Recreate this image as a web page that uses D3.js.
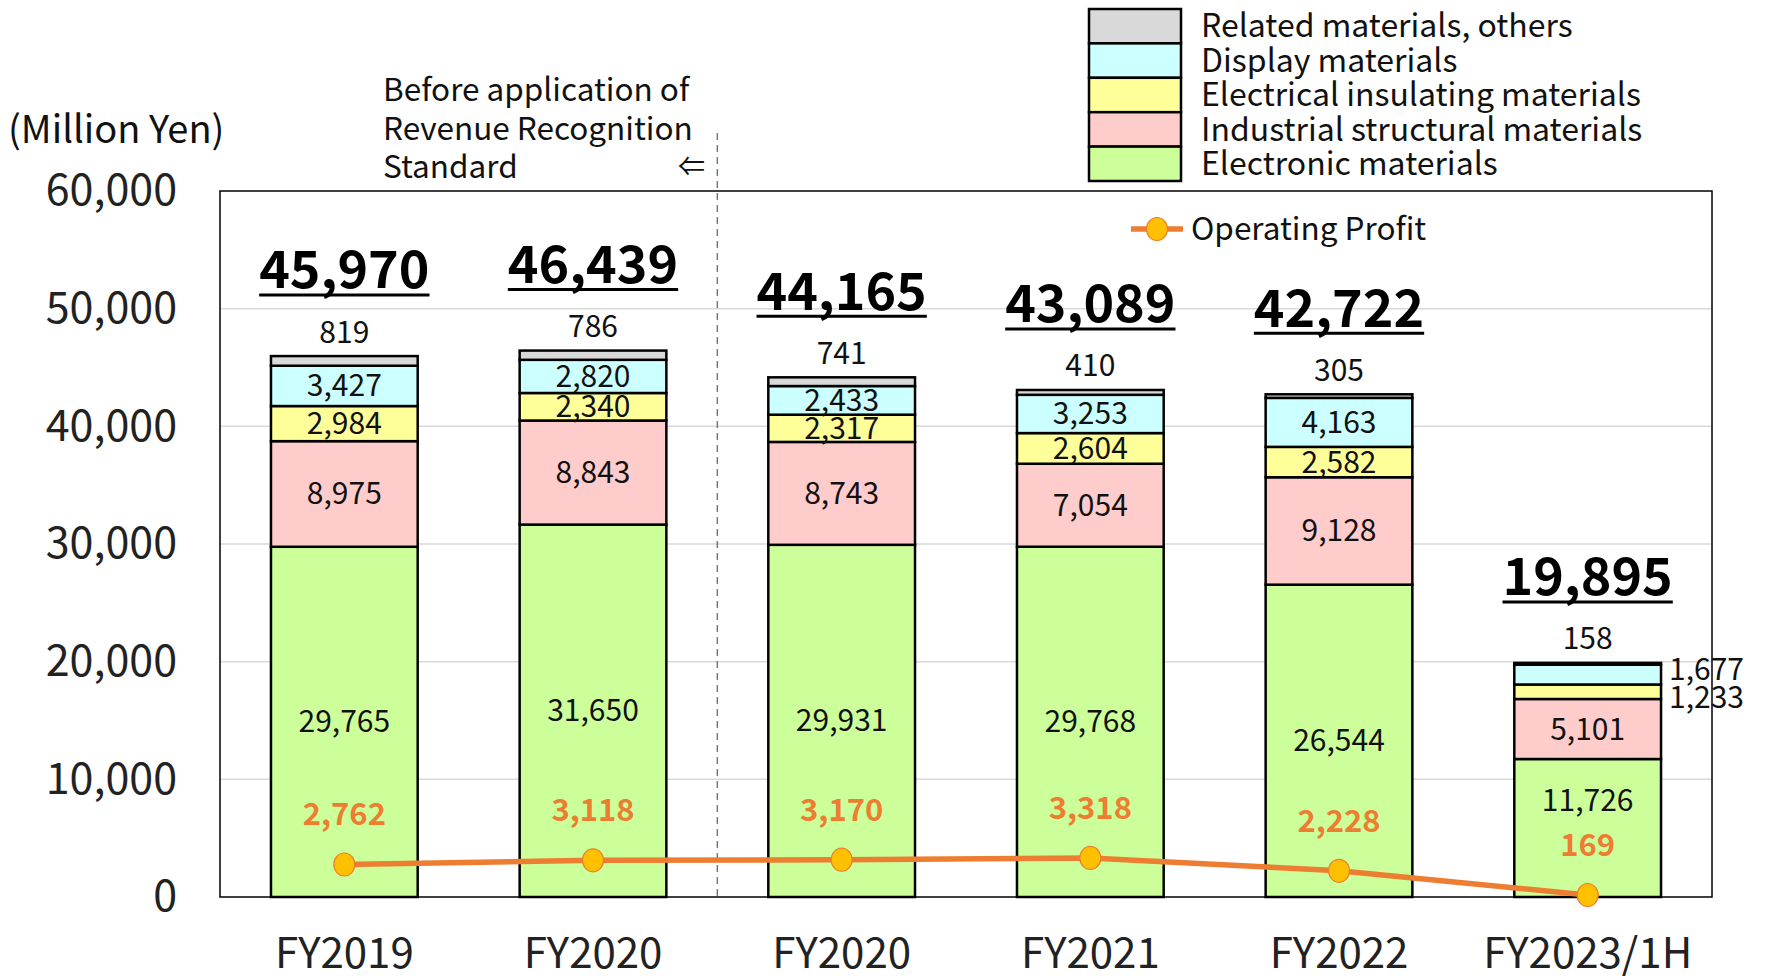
<!DOCTYPE html>
<html>
<head>
<meta charset="utf-8">
<script src="https://cdn.jsdelivr.net/npm/d3@7/dist/d3.min.js"></script>
<style>
  body { margin: 0; background: #fff; }
  svg text { font-family: "Noto Sans CJK JP", "Noto Sans", sans-serif; }
</style>
</head>
<body>
<div id="chart"></div>
<script>
// ── Data ──────────────────────────────────────────────────────────────
const categories = ["FY2019", "FY2020", "FY2020", "FY2021", "FY2022", "FY2023/1H"];
const seriesNames = [
    "Electronic materials",
    "Industrial structural materials",
    "Electrical insulating materials",
    "Display materials",
    "Related materials, others"
];
const electronic = [29765, 31650, 29931, 29768, 26544, 11726];
const industrial = [8975, 8843, 8743, 7054, 9128, 5101];
const electrical = [2984, 2340, 2317, 2604, 2582, 1233];
const display    = [3427, 2820, 2433, 3253, 4163, 1677];
const related    = [819, 786, 741, 410, 305, 158];
const totals     = [45970, 46439, 44165, 43089, 42722, 19895];
const operatingProfit = [2762, 3118, 3170, 3318, 2228, 169];
const yTicks = [0, 10000, 20000, 30000, 40000, 50000, 60000];
const seriesColors = ["#CCFF99", "#FFCCCC", "#FFFF99", "#CCFFFF", "#D9D9D9"];

const width = 1767, height = 980;
const plot = { left: 220, right: 1712, top: 191, bottom: 897 };
const fmt = d3.format(",");

const svg = d3.select("#chart").append("svg")
    .attr("width", width)
    .attr("height", height);

const x = d3.scaleBand()
    .domain(d3.range(categories.length))
    .range([plot.left, plot.right])
    .paddingInner(0.41)
    .paddingOuter(0.205);

const y = d3.scaleLinear()
    .domain([0, 60000])
    .range([plot.bottom, plot.top]);

// ── Gridlines & frame ────────────────────────────────────────────────
svg.append("g")
    .selectAll("line")
    .data(yTicks.filter(t => t > 0 && t < 60000))
    .join("line")
    .attr("x1", plot.left).attr("x2", plot.right)
    .attr("y1", d => y(d)).attr("y2", d => y(d))
    .attr("stroke", "#D9D9D9")
    .attr("stroke-width", 1.5);

svg.append("rect")
    .attr("x", plot.left).attr("y", plot.top)
    .attr("width", plot.right - plot.left)
    .attr("height", plot.bottom - plot.top)
    .attr("fill", "none")
    .attr("stroke", "#000")
    .attr("stroke-width", 1.5);

// y axis labels
const yAxis = svg.append("g")
    .attr("transform", `translate(${plot.left},0)`)
    .call(d3.axisLeft(y).tickValues(yTicks).tickFormat(fmt).tickSize(0).tickPadding(43));
yAxis.select(".domain").remove();
yAxis.selectAll("text")
    .attr("font-family", "'Noto Sans CJK JP', sans-serif")
    .attr("font-size", 43)
    .attr("fill", "#222");

// x axis labels
const xAxis = svg.append("g")
    .attr("transform", `translate(0,${plot.bottom})`)
    .call(d3.axisBottom(x).tickFormat(i => categories[i]).tickSize(0).tickPadding(41));
xAxis.select(".domain").remove();
xAxis.selectAll("text")
    .attr("font-family", "'Noto Sans CJK JP', sans-serif")
    .attr("font-size", 42)
    .attr("fill", "#222");

// dashed separator between the two FY2020 bars
const sepX = (x(1) + x.bandwidth() + x(2)) / 2;
svg.append("line")
    .attr("x1", sepX).attr("x2", sepX)
    .attr("y1", 133).attr("y2", plot.bottom)
    .attr("stroke", "#777")
    .attr("stroke-width", 1.5)
    .attr("stroke-dasharray", "7,5");

// ── Stacked bars ─────────────────────────────────────────────────────
const table = categories.map((c, i) => ({
    i,
    s0: electronic[i], s1: industrial[i], s2: electrical[i], s3: display[i], s4: related[i]
}));
const stack = d3.stack().keys(["s0", "s1", "s2", "s3", "s4"]);
const layers = stack(table);

const layerG = svg.append("g")
    .selectAll("g")
    .data(layers)
    .join("g")
    .attr("fill", (d, k) => seriesColors[k]);

layerG.selectAll("rect")
    .data(d => d)
    .join("rect")
    .attr("x", d => x(d.data.i))
    .attr("width", x.bandwidth())
    .attr("y", d => y(d[1]))
    .attr("height", d => y(d[0]) - y(d[1]))
    .attr("stroke", "#000")
    .attr("stroke-width", 2.5);

// ── Segment labels ───────────────────────────────────────────────────
const labelG = svg.append("g")
    .attr("font-size", 30)
    .attr("fill", "#111");

layers.forEach((layer, k) => {
    layer.forEach(d => {
        const i = d.data.i;
        const cx = x(i) + x.bandwidth() / 2;
        const v = d[1] - d[0];
        let tx = cx, ty = y((d[0] + d[1]) / 2), anchor = "middle";
        if (k === 4) {
            ty = y(d[1]) - 24;
        } else if (i === 5 && (k === 2 || k === 3)) {
            // thin segments of the last bar are labelled to its right
            tx = x(i) + x.bandwidth() + 8;
            anchor = "start";
            ty = k === 3 ? y((d[0] + d[1]) / 2) - 5 : y((d[0] + d[1]) / 2) + 6;
        } else if (k === 0) {
            ty = Math.min(ty, y(operatingProfit[i]) - 95);
        }
        labelG.append("text")
            .attr("x", tx).attr("y", ty)
            .attr("dy", "0.35em")
            .attr("text-anchor", anchor)
            .text(fmt(v));
    });
});

// ── Totals (bold, underlined) ────────────────────────────────────────
const totalG = svg.append("g");
totals.forEach((t, i) => {
    const cx = x(i) + x.bandwidth() / 2;
    const ty = y(t) - 86;
    const txt = totalG.append("text")
        .attr("x", cx).attr("y", ty)
        .attr("dy", "0.35em")
        .attr("text-anchor", "middle")
        .attr("font-size", 52)
        .attr("font-weight", "bold")
        .attr("fill", "#000")
        .text(fmt(t));
    const bb = txt.node().getBBox();
    totalG.append("line")
        .attr("x1", bb.x).attr("x2", bb.x + bb.width)
        .attr("y1", ty + 25).attr("y2", ty + 25)
        .attr("stroke", "#000")
        .attr("stroke-width", 3);
});

// ── Operating profit line ────────────────────────────────────────────
const px = i => x(i) + x.bandwidth() / 2;
svg.append("path")
    .datum(operatingProfit)
    .attr("d", d3.line().x((d, i) => px(i)).y(d => y(d)))
    .attr("fill", "none")
    .attr("stroke", "#ED7D31")
    .attr("stroke-width", 5.5);

svg.append("g")
    .selectAll("ellipse")
    .data(operatingProfit)
    .join("ellipse")
    .attr("cx", (d, i) => px(i))
    .attr("cy", d => y(d))
    .attr("rx", 10.5).attr("ry", 11.5)
    .attr("fill", "#FFC000")
    .attr("stroke", "#ED7D31")
    .attr("stroke-width", 1.2);

svg.append("g")
    .selectAll("text")
    .data(operatingProfit)
    .join("text")
    .attr("x", (d, i) => px(i))
    .attr("y", d => y(d) - 50)
    .attr("dy", "0.35em")
    .attr("text-anchor", "middle")
    .attr("font-size", 31)
    .attr("font-weight", "bold")
    .attr("fill", "#ED7D31")
    .text(d => fmt(d));

// ── Legend ───────────────────────────────────────────────────────────
const legend = svg.append("g").attr("transform", "translate(1089,9)");
const rowH = 34.4;
const legendOrder = [4, 3, 2, 1, 0];
legendOrder.forEach((k, r) => {
    legend.append("rect")
        .attr("x", 0).attr("y", r * rowH)
        .attr("width", 92).attr("height", rowH)
        .attr("fill", seriesColors[k])
        .attr("stroke", "#000")
        .attr("stroke-width", 2.5);
    legend.append("text")
        .attr("x", 112).attr("y", r * rowH + rowH / 2)
        .attr("dy", "0.35em")
        .attr("font-size", 32)
        .attr("fill", "#111")
        .text(seriesNames[k]);
});

const opLeg = svg.append("g").attr("transform", "translate(1131,229)");
opLeg.append("line")
    .attr("x1", 0).attr("x2", 52)
    .attr("stroke", "#ED7D31")
    .attr("stroke-width", 5.5);
opLeg.append("ellipse")
    .attr("cx", 26).attr("rx", 10.5).attr("ry", 11.5)
    .attr("fill", "#FFC000")
    .attr("stroke", "#ED7D31")
    .attr("stroke-width", 1.2);
opLeg.append("text")
    .attr("x", 60).attr("dy", "0.35em")
    .attr("font-size", 31.5)
    .attr("fill", "#111")
    .text("Operating Profit");

// ── Annotations ──────────────────────────────────────────────────────
svg.append("text")
    .attr("x", 8).attr("y", 130)
    .attr("dy", "0.35em")
    .attr("font-size", 38)
    .attr("fill", "#111")
    .text("(Million Yen)");

const note = ["Before application of", "Revenue Recognition", "Standard"];
svg.append("g")
    .selectAll("text")
    .data(note)
    .join("text")
    .attr("x", 383)
    .attr("y", (d, i) => 90 + i * 38.5)
    .attr("dy", "0.35em")
    .attr("font-size", 31.5)
    .attr("fill", "#111")
    .text(d => d);

svg.append("text")
    .attr("x", 705).attr("y", 167)
    .attr("dy", "0.35em")
    .attr("text-anchor", "end")
    .attr("font-size", 27)
    .attr("fill", "#111")
    .text("⇐");
</script>
</body>
</html>
